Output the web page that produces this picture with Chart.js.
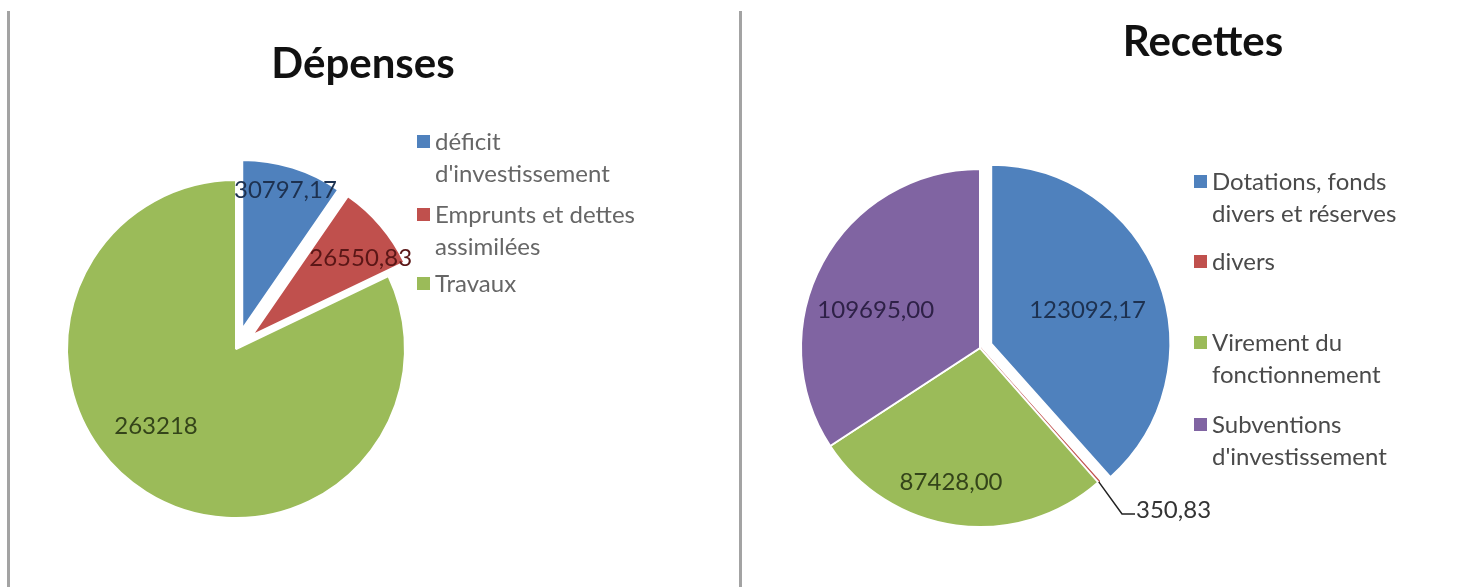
<!DOCTYPE html>
<html>
<head>
<meta charset="utf-8">
<script src="https://cdn.jsdelivr.net/npm/chart.js@4.4.1/dist/chart.umd.min.js"></script>
<style>
    body { margin: 0; background: #fff; }
    #page { position: relative; width: 1475px; height: 587px; overflow: hidden; font-family: Lato, "Open Sans", sans-serif; }
    .vline { position: absolute; top: 11px; bottom: 0; width: 3px; background: #a3a3a3; }
    .box { position: absolute; top: 0; height: 587px; }
    .title { position: absolute; font-weight: bold; font-size: 42px; line-height: 42px; color: #111; transform: translateX(-50%); white-space: nowrap; }
    .legend { position: absolute; top: 0; font-size: 24px; line-height: 32px; }
    .legend .item { position: absolute; left: 0; white-space: nowrap; }
    .legend .sw { position: absolute; left: -18px; top: 10px; width: 13px; height: 13px; }
</style>
</head>
<body>
<div id="page">
    <div class="vline" style="left:7px"></div>
    <div class="vline" style="left:739px"></div>
    <div class="box" style="left:0;width:740px"><canvas id="chart-dep"></canvas></div>
    <div class="box" style="left:740px;width:735px"><canvas id="chart-rec"></canvas></div>
    <div class="title" id="title-dep" style="left:363px;top:41px"></div>
    <div class="title" id="title-rec" style="left:1203px;top:19px"></div>
    <div class="legend" id="legend-dep" style="left:435px;color:#666"></div>
    <div class="legend" id="legend-rec" style="left:1212px;color:#4a4a4a"></div>
</div>
<script>
// ── Data ─────────────────────────────────────────────────────
const DEP_TITLE  = "Dépenses";
const DEP_LABELS = [["déficit", "d'investissement"], ["Emprunts et dettes", "assimilées"], ["Travaux"]];
const DEP_VALUES = [30797.17, 26550.83, 263218];

const REC_TITLE  = "Recettes";
const REC_LABELS = [["Dotations, fonds", "divers et réserves"], ["divers"], ["Virement du", "fonctionnement"], ["Subventions", "d'investissement"]];
const REC_VALUES = [123092.17, 350.83, 87428.00, 109695.00];

// ── Styling ──────────────────────────────────────────────────
const BLUE = "#4f81bd", RED = "#c0504d", GREEN = "#9bbb59", PURPLE = "#8064a2";

function formatFr(v, decimals) {
    const s = decimals == null ? String(v) : v.toFixed(decimals);
    return s.replace(".", ",");
}

// exploded slices + value labels (Excel style)
const pieExtras = {
    id: "pieExtras",
    afterDatasetsUpdate(chart, args, opts) {
        const meta = chart.getDatasetMeta(0);
        meta.data.forEach((arc, i) => {
            const d = (opts.explode || [])[i] || 0;
            if (!d) return;
            const mid = (arc.startAngle + arc.endAngle) / 2;
            arc.x += Math.cos(mid) * d;
            arc.y += Math.sin(mid) * d;
        });
    },
    afterDatasetsDraw(chart, args, opts) {
        const ctx = chart.ctx;
        const meta = chart.getDatasetMeta(0);
        const values = chart.data.datasets[0].data;
        ctx.save();
        ctx.font = opts.font;
        ctx.textBaseline = "middle";
        meta.data.forEach((arc, i) => {
            const p = opts.labels[i];
            const text = formatFr(values[i], opts.decimals);
            const mid = (arc.startAngle + arc.endAngle) / 2 + p.da * Math.PI / 180;
            const r = arc.outerRadius;
            const x = arc.x + Math.cos(mid) * r * p.f;
            const y = arc.y + Math.sin(mid) * r * p.f;
            ctx.fillStyle = opts.colors[i];
            if (p.leader) {
                const m0 = (arc.startAngle + arc.endAngle) / 2;
                ctx.strokeStyle = "#222";
                ctx.lineWidth = 1.5;
                ctx.beginPath();
                ctx.moveTo(arc.x + Math.cos(m0) * r, arc.y + Math.sin(m0) * r);
                ctx.lineTo(x, y);
                ctx.lineTo(x + 13, y);
                ctx.stroke();
                ctx.textAlign = "left";
                ctx.fillText(text, x + 14, y - 4);
            } else {
                ctx.textAlign = "center";
                ctx.fillText(text, x, y);
            }
        });
        ctx.restore();
    }
};

function makePie(canvasId, values, colors, borderColors, radius, padding, extras) {
    return new Chart(document.getElementById(canvasId).getContext("2d"), {
        type: "pie",
        data: {
            labels: values.map((v, i) => i),
            datasets: [{
                data: values,
                backgroundColor: colors,
                borderColor: borderColors,
                borderWidth: 2,
                radius: radius,
            }]
        },
        options: {
            responsive: true,
            maintainAspectRatio: false,
            animation: false,
            events: [],
            layout: { padding: padding },
            plugins: {
                legend: { display: false },
                tooltip: { enabled: false },
                pieExtras: extras,
            }
        },
        plugins: [pieExtras]
    });
}

function buildLegend(id, labels, colors, tops) {
    const el = document.getElementById(id);
    labels.forEach((lines, i) => {
        const item = document.createElement("div");
        item.className = "item";
        item.style.top = tops[i] + "px";
        const sw = document.createElement("span");
        sw.className = "sw";
        sw.style.background = colors[i];
        item.appendChild(sw);
        lines.forEach((line, k) => {
            if (k) item.appendChild(document.createElement("br"));
            item.appendChild(document.createTextNode(line));
        });
        el.appendChild(item);
    });
}

// ── Dépenses ─────────────────────────────────────────────────
const depColors = [BLUE, RED, GREEN];
document.getElementById("title-dep").textContent = DEP_TITLE;
buildLegend("legend-dep", DEP_LABELS, depColors, [125, 198, 267]);
makePie("chart-dep", DEP_VALUES, depColors, "#fff", 169,
    { left: 40, right: 308, top: 149, bottom: 38 },
    {
        explode: [21, 21, 0],
        decimals: null,
        font: "24px Lato, 'Open Sans', sans-serif",
        colors: ["#1d3150", "#5a1616", "#34441a"],
        labels: [{ f: 0.86, da: 0 }, { f: 0.79, da: 5 }, { f: 0.66, da: 13.6 }],
    });

// ── Recettes ─────────────────────────────────────────────────
const recColors = [BLUE, RED, GREEN, PURPLE];
document.getElementById("title-rec").textContent = REC_TITLE;
buildLegend("legend-rec", REC_LABELS, recColors, [165, 245, 326, 408]);
makePie("chart-rec", REC_VALUES, recColors, ["#fff", RED, "#fff", "#fff"], 179,
    { left: 40, right: 295, top: 148, bottom: 39 },
    {
        explode: [12, 0, 0, 0],
        decimals: 2,
        font: "24px Lato, 'Open Sans', sans-serif",
        colors: ["#1d3150", "#333333", "#34441a", "#2e2147"],
        labels: [{ f: 0.57, da: 1.7 }, { f: 1.22, da: 1, leader: true }, { f: 0.77, da: 4.4 }, { f: 0.62, da: -8.4 }],
    });
</script>
</body>
</html>
